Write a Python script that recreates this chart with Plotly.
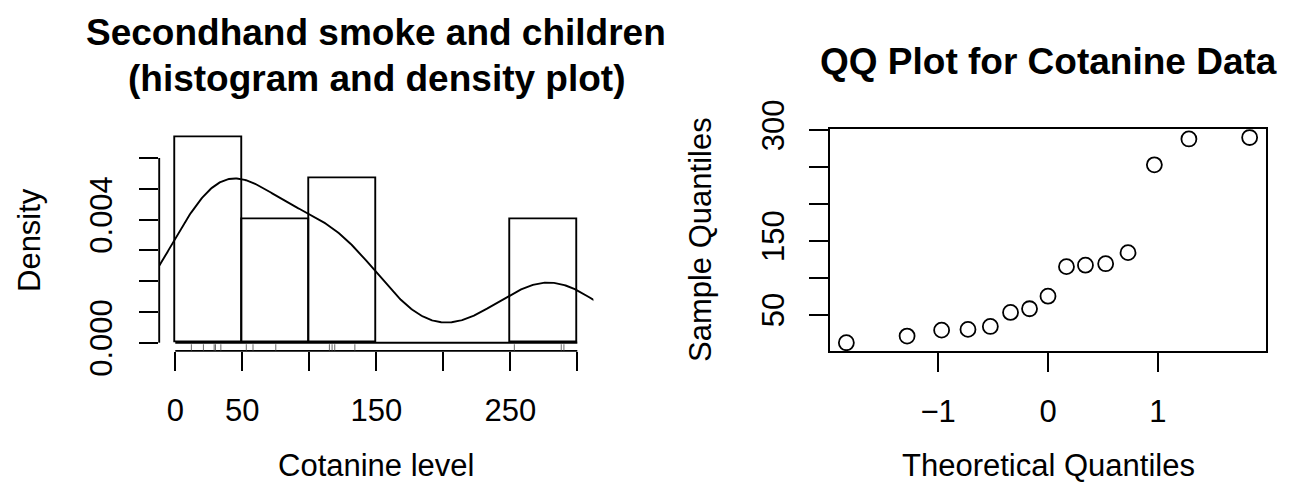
import statistics
import numpy as np
import plotly.graph_objects as go

# ---- data ----
cotanine = [12, 21, 29, 30, 34, 53, 58, 75, 115, 117, 119, 134, 253, 288, 290]
bin_start, bin_end, bin_size = 0, 300, 50
hist_xticks = [0, 50, 100, 150, 200, 250, 300]
hist_xticktext = ["0", "50", "", "150", "", "250", ""]
hist_yticks = [0, 0.001, 0.002, 0.003, 0.004, 0.005, 0.006]
hist_yticktext = ["0.000", "", "", "", "0.004", "", ""]
qq_xticks = [-1, 0, 1]
qq_xticktext = ["\u22121", "0", "1"]
qq_yticks = [50, 100, 150, 200, 250, 300]
qq_yticktext = ["50", "", "150", "", "", "300"]

# ---- derived statistics (as R's density() and qqnorm() do) ----
x = np.array(cotanine, dtype=float)
n = len(x)
q75, q25 = np.percentile(x, [75, 25])
bw = 0.9 * min(np.std(x, ddof=1), (q75 - q25) / 1.34) * n ** (-0.2)
grid = np.linspace(x.min() - 3 * bw, x.max() + 3 * bw, 512)
dens = np.exp(-0.5 * ((grid[:, None] - x[None, :]) / bw) ** 2).sum(axis=1) / (n * bw * np.sqrt(2 * np.pi))

a = 3 / 8 if n <= 10 else 0.5
probs = [(i - a) / (n + 1 - 2 * a) for i in range(1, n + 1)]
theo = [statistics.NormalDist().inv_cdf(p) for p in probs]
sample = sorted(cotanine)

W, H = 1290, 501
FONT = "Liberation Sans, Arial, Helvetica, sans-serif"
LW = 1.9

def fx(px):
    return px / W

def fy(py):
    return 1 - py / H

fig = go.Figure()

fig.add_trace(go.Histogram(
    x=cotanine, xbins=dict(start=bin_start, end=bin_end, size=bin_size),
    histnorm="probability density",
    marker=dict(color="rgba(255,255,255,0)", line=dict(color="black", width=LW)),
    xaxis="x", yaxis="y", showlegend=False, hoverinfo="skip"))

fig.add_trace(go.Scatter(
    x=grid, y=dens, mode="lines", line=dict(color="black", width=LW),
    xaxis="x", yaxis="y", showlegend=False, hoverinfo="skip"))

fig.add_trace(go.Scatter(
    x=theo, y=sample, mode="markers",
    marker=dict(symbol="circle-open", size=15, color="black", line=dict(width=1.8)),
    xaxis="x2", yaxis="y2", showlegend=False, hoverinfo="skip"))

shapes = []
# R-style axis lines spanning the first to last tick (left panel)
shapes.append(dict(type="line", xref="x domain", yref="y", x0=0, x1=0,
                   y0=hist_yticks[0], y1=hist_yticks[-1], line=dict(color="black", width=LW)))
shapes.append(dict(type="line", xref="x", yref="y domain", x0=hist_xticks[0], x1=hist_xticks[-1],
                   y0=0, y1=0, line=dict(color="black", width=LW)))
# baseline of empty bins
shapes.append(dict(type="line", xref="x", yref="y", x0=bin_start, x1=bin_end,
                   y0=0, y1=0, line=dict(color="black", width=LW)))
# rug
for v in cotanine:
    shapes.append(dict(type="line", xref="x", yref="y domain", x0=v, x1=v, y0=0, y1=0.03,
                       line=dict(color="#444444", width=0.8)))

dom_y = [fy(350.9), fy(129.3)]
tickfont = dict(family=FONT, size=31, color="black")
common = dict(showgrid=False, zeroline=False, ticks="outside", ticklen=19, tickwidth=LW,
              tickcolor="black", tickfont=tickfont, automargin=False)

fig.update_layout(
    width=W, height=H, margin=dict(l=0, r=0, t=0, b=0, autoexpand=False),
    paper_bgcolor="white", plot_bgcolor="white", bargap=0,
    font=dict(family=FONT, color="black"),
    xaxis=dict(domain=[fx(159.2), fx(593.4)], range=[-12, 312], anchor="y",
               tickmode="array", tickvals=hist_xticks, ticktext=hist_xticktext,
               showline=False, ticklabelstandoff=13, **common),
    yaxis=dict(domain=dom_y, range=[-0.000267, 0.006933], anchor="x",
               tickmode="array", tickvals=hist_yticks, ticktext=hist_yticktext,
               tickangle=-90, showline=False, ticklabelstandoff=15, **common),
    xaxis2=dict(domain=[fx(830.3), fx(1265.7)], range=[-1.98, 1.98], anchor="y2",
                tickmode="array", tickvals=qq_xticks, ticktext=qq_xticktext,
                showline=True, mirror=True, linecolor="black", linewidth=LW,
                ticklabelstandoff=13, **common),
    yaxis2=dict(domain=dom_y, range=[0.9, 301.1], anchor="x2",
                tickmode="array", tickvals=qq_yticks, ticktext=qq_yticktext,
                tickangle=-90, showline=True, mirror=True, linecolor="black", linewidth=LW,
                ticklabelstandoff=13, **common),
    shapes=shapes,
)

ann = []
tfont = dict(family=FONT, size=37, color="black")
afont = dict(family=FONT, size=31, color="black")
ann.append(dict(text="<b>Secondhand smoke and children</b>", x=fx(376.3), y=fy(32), font=tfont))
ann.append(dict(text="<b>(histogram and density plot)</b>", x=fx(376.3), y=fy(78), font=tfont))
ann.append(dict(text="<b>QQ Plot for Cotanine Data</b>", x=fx(1048), y=fy(61), font=tfont))
ann.append(dict(text="Cotanine level", x=fx(376.3), y=fy(465), font=afont))
ann.append(dict(text="Theoretical Quantiles", x=fx(1048), y=fy(465), font=afont))
ann.append(dict(text="Density", x=fx(29), y=fy(240), font=afont, textangle=-90))
ann.append(dict(text="Sample Quantiles", x=fx(700), y=fy(240), font=afont, textangle=-90))
for a_ in ann:
    a_.update(xref="paper", yref="paper", xanchor="center", yanchor="middle", showarrow=False)
fig.update_layout(annotations=ann)

fig.write_html("out.html")
